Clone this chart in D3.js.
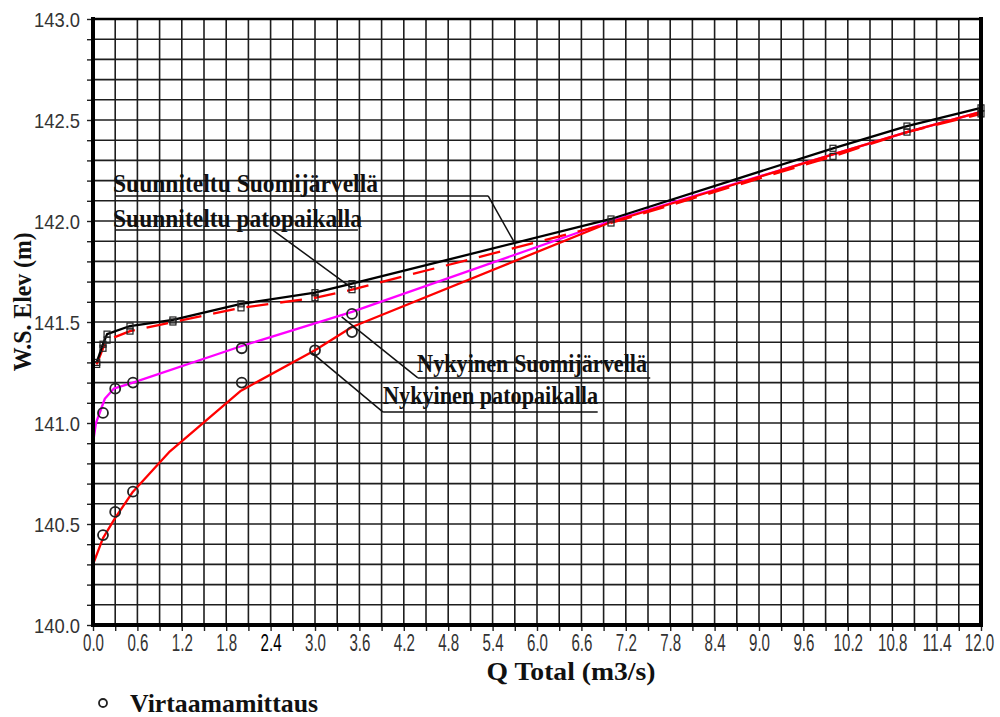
<!DOCTYPE html>
<html lang="fi">
<head>
<meta charset="UTF-8">
<title>W.S. Elev - Q Total</title>
<script src="https://d3js.org/d3.v7.min.js"></script>
<style>
  body { margin: 0; background: #fff; }
  .grid line { stroke: #1e1e1e; stroke-width: 1.6px; }
  .tick-label { font-family: "Liberation Sans", Arial, sans-serif; fill: #333; }
  .title { font-family: "Liberation Serif", "Times New Roman", serif; font-weight: bold; fill: #111; }
  .series { fill: none; stroke-width: 2.3px; stroke-linejoin: round; }
</style>
</head>
<body>
<div id="chart"></div>
<script>
// --- data ---
const designQ = [0.05, 0.135, 0.19, 0.5, 1.08, 2.0, 3.0, 3.5, 7.0, 10.0, 11.0, 12.0];
const designLake = [141.30, 141.39, 141.44, 141.48, 141.51, 141.59, 141.645, 141.69, 142.01, 142.36, 142.47, 142.56];
const designDam = [141.29, 141.37, 141.41, 141.455, 141.50, 141.57, 141.62, 141.66, 141.99, 142.32, 142.44, 142.53];

const nowLakeQ = [0.0, 0.04, 0.16, 0.28, 0.54, 2.0, 3.5, 7.0, 10.0, 11.0, 12.0];
const nowLake = [140.90, 141.00, 141.12, 141.17, 141.20, 141.38, 141.55, 142.00, 142.33, 142.44, 142.54];

const nowDamQ = [0.0, 0.135, 0.3, 0.54, 1.04, 2.0, 3.0, 3.5, 7.0, 10.0, 11.0, 12.0];
const nowDam = [140.30, 140.43, 140.53, 140.66, 140.86, 141.16, 141.36, 141.475, 141.995, 142.33, 142.44, 142.54];

const measQ = [0.135, 0.30, 0.54, 0.135, 0.30, 0.54, 2.01, 2.01, 3.0, 3.5, 3.5];
const measE = [140.445, 140.56, 140.66, 141.05, 141.17, 141.20, 141.37, 141.20, 141.36, 141.54, 141.45];

const xTickLabels = d3.range(0, 12.001, 0.6).map(v => v.toFixed(1));
const yTickLabels = ["140.0", "140.5", "141.0", "141.5", "142.0", "142.5", "143.0"];

// annotation labels, in data units: text start, underline, leader end
const labels = [
  { text: "Suunniteltu Suomijärvellä", q: 0.27, e: 142.144, len: 265, lineE: 142.124, q0: 0.30, q1: 5.34, toQ: 5.70, toE: 141.89, fromEnd: true },
  { text: "Suunniteltu patopaikalla", q: 0.27, e: 141.97, len: 249, lineE: 141.955, q0: 0.30, q1: 3.58, fromQ: 2.43, toQ: 3.5, toE: 141.668 },
  { text: "Nykyinen Suomijärvellä", q: 4.38, e: 141.252, len: 230, lineE: 141.223, q0: 4.39, q1: 7.53, toQ: 3.36, toE: 141.525 },
  { text: "Nykyinen patopaikalla", q: 3.92, e: 141.094, len: 215, lineE: 141.054, q0: 3.92, q1: 6.82, toQ: 2.96, toE: 141.347 }
];

const W = 1000, H = 717;
const svg = d3.select("#chart").append("svg").attr("width", W).attr("height", H);

const x = d3.scaleLinear().domain([0, 12]).range([93, 981]);
const y = d3.scaleLinear().domain([140, 143]).range([625, 19]);

// grid
const grid = svg.append("g").attr("class", "grid");
grid.selectAll(".gx").data(d3.range(0, 12.001, 0.3)).join("line")
  .attr("x1", d => x(d)).attr("x2", d => x(d)).attr("y1", y(140)).attr("y2", y(143));
grid.selectAll(".gy").data(d3.range(140, 143.001, 0.1)).join("line")
  .attr("x1", x(0)).attr("x2", x(12)).attr("y1", d => y(d)).attr("y2", d => y(d));

// axes
const yAxis = svg.append("g").attr("transform", `translate(${x(0)},0)`)
  .call(d3.axisLeft(y).tickValues(d3.range(140, 143.001, 0.1)).tickSize(6).tickSizeOuter(0)
    .tickFormat(d => yTickLabels.includes(d.toFixed(1)) && Math.abs(d * 2 - Math.round(d * 2)) < 1e-6 ? d.toFixed(1) : ""));
yAxis.select(".domain").remove();
yAxis.selectAll(".tick line").attr("stroke", "#222").attr("stroke-width", 1.4);
yAxis.selectAll(".tick text")
  .attr("class", "tick-label").attr("x", -13).attr("dy", "0.36em")
  .style("font-size", "21px")
  .each(function() { if (this.textContent) d3.select(this).attr("textLength", 46).attr("lengthAdjust", "spacingAndGlyphs"); });

const xAxis = svg.append("g").attr("transform", `translate(0,${y(140)})`)
  .call(d3.axisBottom(x).tickValues(d3.range(0, 12.001, 0.3)).tickSize(6).tickSizeOuter(0)
    .tickFormat(d => { const s = d.toFixed(1); return Math.abs(d / 0.6 - Math.round(d / 0.6)) < 1e-6 && xTickLabels.includes(s) ? s : ""; }));
xAxis.select(".domain").remove();
xAxis.selectAll(".tick line").attr("stroke", "#222").attr("stroke-width", 1.4);
xAxis.selectAll(".tick text")
  .attr("class", "tick-label").attr("y", 26).attr("dy", 0)
  .style("font-size", "24px")
  .each(function() {
    const s = this.textContent;
    if (!s) return;
    const w = (s.length - 1) * 8.4 + 4.2;
    d3.select(this).attr("textLength", w).attr("lengthAdjust", "spacingAndGlyphs");
    if (s === "2.4") d3.select(this).style("fill", "#000");
    if (s === "12.0") d3.select(this).attr("x", -2);
  });

// series
const line = d3.line().x(d => x(d[0])).y(d => y(d[1]));
svg.append("path").attr("class", "series").attr("stroke", "#ff00ff")
  .attr("d", line(d3.zip(nowLakeQ, nowLake)));
svg.append("path").attr("class", "series").attr("stroke", "#ff0000")
  .attr("d", line(d3.zip(nowDamQ, nowDam)));
svg.append("path").attr("class", "series").attr("stroke", "#ff0000").attr("stroke-dasharray", "22,12")
  .attr("d", line(d3.zip(designQ, designDam)));
svg.append("path").attr("class", "series").attr("stroke", "#000")
  .attr("d", line(d3.zip(designQ, designLake)));

// square markers
const sq = d3.zip(designQ, designLake).concat(d3.zip(designQ, designDam));
svg.append("g").selectAll("rect").data(sq).join("rect")
  .attr("x", d => x(d[0]) - 3).attr("y", d => y(d[1]) - 3)
  .attr("width", 6).attr("height", 6)
  .attr("fill", "none").attr("stroke", "#222").attr("stroke-width", 1.2);

// measurement circles
svg.append("g").selectAll("circle").data(d3.zip(measQ, measE)).join("circle")
  .attr("cx", d => x(d[0])).attr("cy", d => y(d[1])).attr("r", 5)
  .attr("fill", "none").attr("stroke", "#222").attr("stroke-width", 1.8);

// frame
const frame = svg.append("g").attr("stroke", "#000").attr("stroke-linecap", "square");
frame.append("line").attr("x1", x(0)).attr("x2", x(12)).attr("y1", y(143)).attr("y2", y(143)).attr("stroke-width", 2.5);
frame.append("line").attr("x1", x(0)).attr("x2", x(12)).attr("y1", y(140)).attr("y2", y(140)).attr("stroke-width", 4);
frame.append("line").attr("x1", x(0)).attr("x2", x(0)).attr("y1", y(143)).attr("y2", y(140)).attr("stroke-width", 4);
frame.append("line").attr("x1", x(12)).attr("x2", x(12)).attr("y1", y(143)).attr("y2", y(140)).attr("stroke-width", 4);

// annotations
const ann = svg.append("g");
labels.forEach(l => {
  ann.append("text").attr("class", "title")
    .attr("x", x(l.q)).attr("y", y(l.e))
    .style("font-size", "25px")
    .attr("textLength", l.len).attr("lengthAdjust", "spacingAndGlyphs")
    .text(l.text);
  ann.append("line").attr("x1", x(l.q0)).attr("x2", x(l.q1))
    .attr("y1", y(l.lineE)).attr("y2", y(l.lineE))
    .attr("stroke", "#111").attr("stroke-width", 1.5);
  const fq = l.fromEnd ? l.q1 : (l.fromQ !== undefined ? l.fromQ : l.q0);
  ann.append("line").attr("x1", x(fq)).attr("y1", y(l.lineE))
    .attr("x2", x(l.toQ)).attr("y2", y(l.toE))
    .attr("stroke", "#111").attr("stroke-width", 1.5);
});

// axis titles
svg.append("text").attr("class", "title")
  .attr("transform", `translate(31,${y(141.6)}) rotate(-90)`)
  .attr("text-anchor", "middle").style("font-size", "25px")
  .attr("textLength", 139).attr("lengthAdjust", "spacingAndGlyphs")
  .text("W.S. Elev  (m)");
svg.append("text").attr("class", "title")
  .attr("x", 571).attr("y", 680).attr("text-anchor", "middle")
  .style("font-size", "25px")
  .attr("textLength", 169).attr("lengthAdjust", "spacingAndGlyphs")
  .text("Q Total  (m3/s)");

// legend
svg.append("circle").attr("cx", 103).attr("cy", 703).attr("r", 4)
  .attr("fill", "none").attr("stroke", "#222").attr("stroke-width", 1.8);
svg.append("text").attr("class", "title").attr("x", 130).attr("y", 712)
  .style("font-size", "25px").attr("textLength", 188).attr("lengthAdjust", "spacingAndGlyphs")
  .text("Virtaamamittaus");
</script>
</body>
</html>
